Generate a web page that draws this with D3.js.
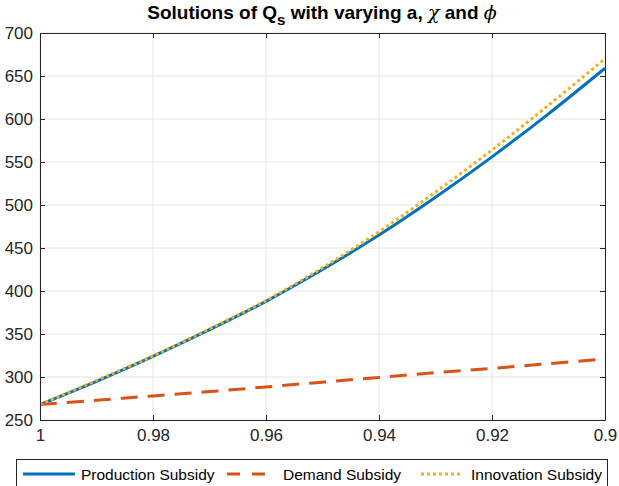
<!DOCTYPE html>
<html><head><meta charset="utf-8">
<script src="https://cdn.jsdelivr.net/npm/d3@7"></script>
<style>body{margin:0;background:#fff;font-family:"Liberation Sans",Arial,Helvetica,sans-serif;}</style>
</head><body><svg id="c" width="619" height="486"></svg>
<script>
const xs = [1, 0.99, 0.98, 0.97, 0.96, 0.95, 0.94, 0.93, 0.92, 0.91, 0.90];
const production = [268, 295, 324, 355, 388, 425, 465, 509, 556, 606, 659];
const demand = [268, 273, 278, 283, 288.5, 294, 299.5, 305, 310, 315.5, 321];
const innovation = [268, 296, 324.5, 356, 389, 427, 469, 515, 564, 616, 670];
const xTicks = [1, 0.98, 0.96, 0.94, 0.92, 0.9];
const xTickLabels = ["1", "0.98", "0.96", "0.94", "0.92", "0.9"];
const yTicks = [250, 300, 350, 400, 450, 500, 550, 600, 650, 700];
const seriesNames = ["Production Subsidy", "Demand Subsidy", "Innovation Subsidy"];

const svg = d3.select("#c");
const L = 40, R = 605, T = 33, B = 420;
const x = d3.scaleLinear().domain([1, 0.9]).range([L, R]);
const y = d3.scaleLinear().domain([250, 700]).range([B, T]);
const axisCol = "#262626";
const ff = '"Liberation Sans",Arial,sans-serif';

// grid
svg.append("g").selectAll("line").data(xTicks).join("line")
  .attr("x1", d => x(d)).attr("x2", d => x(d)).attr("y1", T).attr("y2", B)
  .attr("stroke", "#e6e6e6").attr("stroke-width", 1);
svg.append("g").selectAll("line").data(yTicks).join("line")
  .attr("y1", d => y(d)).attr("y2", d => y(d)).attr("x1", L).attr("x2", R)
  .attr("stroke", "#e6e6e6").attr("stroke-width", 1);

// lines
const line = d3.line().x((d, i) => x(xs[i])).y(d => y(d)).curve(d3.curveCatmullRom);
svg.append("clipPath").attr("id", "clp").append("rect")
  .attr("x", L).attr("y", T - 2).attr("width", R - L + 2).attr("height", B - T + 4);
const gL = svg.append("g").attr("clip-path", "url(#clp)");
gL.append("path").attr("d", line(production)).attr("fill", "none")
  .attr("stroke", "#0072BD").attr("stroke-width", 3);
gL.append("path").attr("d", line(demand)).attr("fill", "none")
  .attr("stroke", "#D95319").attr("stroke-width", 3).attr("stroke-dasharray", "17,10");
gL.append("path").attr("d", line(innovation)).attr("fill", "none")
  .attr("stroke", "#EDB120").attr("stroke-width", 3).attr("stroke-dasharray", "3,3");

// axes
const xAxB = d3.axisBottom(x).tickValues(xTicks).tickFormat((d, i) => xTickLabels[i]).tickSizeInner(-5).tickSizeOuter(0).tickPadding(9);
const xAxT = d3.axisTop(x).tickValues(xTicks).tickFormat("").tickSizeInner(-5).tickSizeOuter(0);
const yAxL = d3.axisLeft(y).tickValues(yTicks).tickFormat(d3.format("d")).tickSizeInner(-5).tickSizeOuter(0).tickPadding(7);
const yAxR = d3.axisRight(y).tickValues(yTicks).tickFormat("").tickSizeInner(-5).tickSizeOuter(0);
function style(g){
  g.select(".domain").attr("stroke", axisCol).attr("stroke-width", 1);
  g.selectAll(".tick line").attr("stroke", axisCol);
  g.selectAll(".tick text").attr("fill", axisCol).attr("font-size", 17).attr("font-family", ff);
}
svg.append("g").attr("transform", `translate(0,${B})`).call(xAxB).call(style);
svg.append("g").attr("transform", `translate(0,${T})`).call(xAxT).call(style);
svg.append("g").attr("transform", `translate(${L},0)`).call(yAxL).call(style);
svg.append("g").attr("transform", `translate(${R},0)`).call(yAxR).call(style);

// title
const title = svg.append("text").attr("x", 322).attr("y", 19).attr("text-anchor", "middle")
  .attr("font-size", 19).attr("font-weight", "bold").attr("fill", "#000").attr("font-family", ff);
title.append("tspan").text("Solutions of Q");
title.append("tspan").text("s").attr("dy", 6).attr("font-size", 15);
title.append("tspan").text(" with varying a, ").attr("dy", -6);
title.append("tspan").text("χ").attr("font-style", "italic").attr("font-weight", "normal").attr("font-family", '"DejaVu Serif",serif');
title.append("tspan").text(" and ");
title.append("tspan").text("ϕ").attr("font-style", "italic").attr("font-weight", "normal").attr("font-family", '"DejaVu Serif",serif');

// legend
const lg = svg.append("g");
lg.append("rect").attr("x", 16.5).attr("y", 459.5).attr("width", 591).attr("height", 30)
  .attr("fill", "#fff").attr("stroke", axisCol).attr("stroke-width", 1);
const items = [
  {name: seriesNames[0], col: "#0072BD", dash: null, x0: 23, x1: 75, tx: 81},
  {name: seriesNames[1], col: "#D95319", dash: "13,12", x0: 227, x1: 265, tx: 283},
  {name: seriesNames[2], col: "#EDB120", dash: "3,3", x0: 421, x1: 462, tx: 471}
];
items.forEach(it => {
  lg.append("line").attr("x1", it.x0).attr("x2", it.x1).attr("y1", 474).attr("y2", 474)
    .attr("stroke", it.col).attr("stroke-width", 3).attr("stroke-dasharray", it.dash);
  lg.append("text").attr("x", it.tx).attr("y", 479.5).attr("font-size", 15.5).attr("fill", "#000")
    .attr("font-family", ff).text(it.name);
});
</script></body></html>
